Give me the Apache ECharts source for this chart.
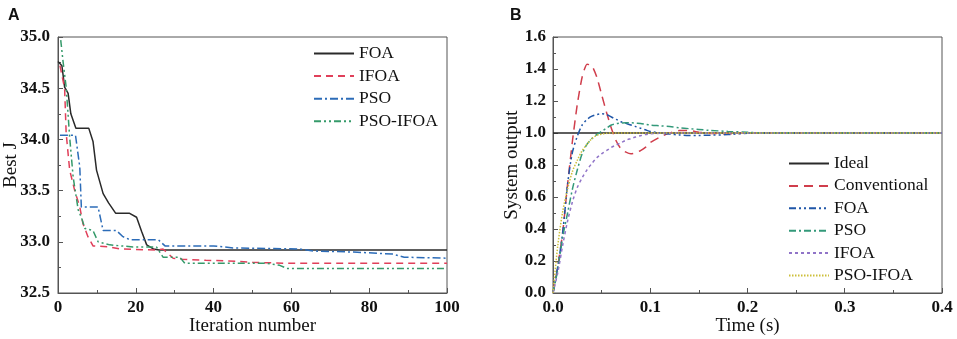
<!DOCTYPE html>
<html>
<head>
<meta charset="utf-8">
<script src="https://cdn.jsdelivr.net/npm/echarts@6/dist/echarts.min.js"></script>
<style>
  html, body { margin: 0; padding: 0; background: #fff; }
  #wrap { width: 957px; height: 339px; position: relative; }
  #chartA { position: absolute; left: 0; top: 0; width: 480px; height: 339px; }
  #chartB { position: absolute; left: 480px; top: 0; width: 477px; height: 339px; }
</style>
</head>
<body>
<div id="wrap">
  <div id="chartA"></div>
  <div id="chartB"></div>
</div>
<script>
// ---- panel A: convergence (iteration vs best J) ----
const foaIter = [0, 1, 1.7, 2.6, 3.3, 4.6, 7.9, 9, 9.9, 11.6, 13, 14.8, 18.3, 20.2, 21.5, 22.8, 24.5, 26, 100];
const foaJ    = [34.76, 34.72, 34.51, 34.45, 34.25, 34.11, 34.11, 33.98, 33.70, 33.47, 33.38, 33.28, 33.28, 33.24, 33.10, 32.97, 32.93, 32.92, 32.92];

const ifoaIter = [0.5, 1.7, 2.1, 3, 4.3, 5.6, 6.4, 7.7, 9, 13.3, 16, 25, 27, 29.6, 32, 38, 45.8, 50, 58.8, 100];
const ifoaJ    = [34.72, 34.50, 34.06, 33.70, 33.50, 33.34, 33.18, 33.05, 32.96, 32.95, 32.93, 32.92, 32.93, 32.84, 32.83, 32.82, 32.81, 32.80, 32.79, 32.79];

const psoIter = [0.5, 4.5, 5.6, 6, 10.3, 11.6, 15, 16.7, 18.5, 25.8, 27.5, 40, 45, 62, 65.7, 76, 86, 89, 100];
const psoJ    = [34.04, 34.04, 33.73, 33.34, 33.34, 33.11, 33.11, 33.05, 33.02, 33.02, 32.96, 32.96, 32.94, 32.93, 32.91, 32.90, 32.88, 32.85, 32.84];

const hybIter = [0.7, 1.3, 2.1, 3, 3.9, 5.2, 6, 6.9, 9, 10.3, 13.3, 19.3, 25.3, 27, 31.3, 32.6, 53.6, 57, 58.8, 100];
const hybJ    = [34.97, 34.76, 34.51, 34.02, 33.63, 33.31, 33.24, 33.13, 33.11, 33.00, 32.97, 32.95, 32.95, 32.85, 32.85, 32.79, 32.79, 32.77, 32.74, 32.74];

// ---- panel B: step response (time vs output) ----
const timeB = [0, 0.005, 0.01, 0.015, 0.02, 0.025, 0.03, 0.035, 0.04, 0.045, 0.05, 0.055, 0.06, 0.065, 0.07, 0.075, 0.08, 0.085, 0.09, 0.095, 0.1, 0.11, 0.12, 0.13, 0.14, 0.15, 0.16, 0.18, 0.2, 0.22, 0.25, 0.3, 0.35, 0.4];
const idealOut = timeB.map(() => 1.0);
const convOut  = [0, 0.17, 0.38, 0.68, 0.95, 1.18, 1.35, 1.43, 1.42, 1.35, 1.24, 1.13, 1.03, 0.95, 0.90, 0.88, 0.87, 0.875, 0.89, 0.91, 0.94, 0.975, 1.0, 1.015, 1.015, 1.005, 0.998, 0.995, 1.0, 1.0, 1.0, 1.0, 1.0, 1.0];
const foaOut   = [0, 0.17, 0.38, 0.68, 0.88, 0.98, 1.05, 1.085, 1.105, 1.115, 1.12, 1.115, 1.1, 1.085, 1.07, 1.06, 1.05, 1.04, 1.03, 1.02, 1.01, 1.0, 0.993, 0.988, 0.985, 0.985, 0.986, 0.99, 0.998, 1.0, 1.0, 1.0, 1.0, 1.0];
const psoOut   = [0, 0.15, 0.35, 0.50, 0.65, 0.77, 0.87, 0.93, 0.965, 0.99, 1.01, 1.03, 1.05, 1.058, 1.062, 1.064, 1.064, 1.062, 1.06, 1.055, 1.05, 1.045, 1.04, 1.033, 1.027, 1.022, 1.017, 1.01, 1.005, 1.0, 1.0, 1.0, 1.0, 1.0];
const ifoaOut  = [0, 0.13, 0.30, 0.45, 0.57, 0.66, 0.72, 0.77, 0.81, 0.845, 0.87, 0.89, 0.91, 0.925, 0.94, 0.955, 0.965, 0.975, 0.983, 0.99, 0.995, 0.998, 1.0, 1.0, 1.0, 1.0, 1.0, 1.0, 1.0, 1.0, 1.0, 1.0, 1.0, 1.0];
const hybOut   = [0, 0.30, 0.51, 0.65, 0.76, 0.83, 0.89, 0.93, 0.965, 0.985, 0.993, 0.998, 1.0, 1.0, 1.0, 1.0, 1.0, 1.0, 1.0, 1.0, 1.0, 1.0, 1.0, 1.0, 1.0, 1.0, 1.0, 1.0, 1.0, 1.0, 1.0, 1.0, 1.0, 1.0];

const xTicksA = [0, 20, 40, 60, 80, 100];
const yTicksB = ["0.0", "0.2", "0.4", "0.6", "0.8", "1.0", "1.2", "1.4", "1.6"];

const SERIF = "'Liberation Serif', 'DejaVu Serif', serif";
const FRAME = "#555";

function zip(xs, ys) {
  return xs.map((x, i) => [x, ys[i]]);
}

function lineSeries(name, xs, ys, color, dash, smooth) {
  return {
    name: name,
    type: "line",
    data: zip(xs, ys),
    symbol: "none",
    smooth: smooth || false,
    lineStyle: { color: color, width: 1.5, type: dash },
    itemStyle: { color: color },
    z: 3,
  };
}

function valueAxis(opts) {
  return Object.assign({
    type: "value",
    axisLine: { show: true, lineStyle: { color: FRAME, width: 1 } },
    axisTick: { show: true, inside: true, length: 5, lineStyle: { color: FRAME } },
    minorTick: { show: true, splitNumber: 2, length: 3, lineStyle: { color: FRAME } },
    splitLine: { show: false },
    nameLocation: "middle",
    nameMoveOverlap: false,
    nameTextStyle: { color: "#111", fontFamily: SERIF, fontSize: 19 },
  }, opts);
}

function tickLabels(margin, formatter) {
  return { color: "#111", fontFamily: SERIF, fontWeight: "bold", fontSize: 17, margin: margin, formatter: formatter };
}

function legendBox(left, top, names, gap) {
  return {
    orient: "vertical",
    left: left,
    top: top,
    padding: 0,
    data: names,
    itemWidth: 40,
    itemHeight: 14,
    itemGap: gap,
    itemStyle: { opacity: 0 },
    textStyle: { color: "#111", fontFamily: SERIF, fontSize: 17.5, lineHeight: 17 },
    selectedMode: false,
  };
}

const titleStyle = { fontFamily: "'Liberation Sans', Arial, sans-serif", fontWeight: "bold", fontSize: 16, color: "#111" };

// chart A
const chartA = echarts.init(document.getElementById("chartA"));
chartA.setOption({
  animation: false,
  title: { text: "A", left: 3, top: 3, textStyle: titleStyle },
  grid: { left: 58, top: 37, width: 389, height: 256, show: true, borderColor: FRAME, borderWidth: 1, outerBoundsMode: "none" },
  xAxis: valueAxis({
    min: 0, max: 100, interval: 20,
    name: "Iteration number", nameGap: 24,
    axisLabel: tickLabels(6, v => xTicksA.includes(v) ? String(v) : ""),
  }),
  yAxis: valueAxis({
    min: 32.5, max: 35, interval: 0.5,
    name: "Best J", nameGap: 37,
    axisLabel: tickLabels(8, v => v.toFixed(1)),
  }),
  legend: legendBox(313, 44.5, ["FOA", "IFOA", "PSO", "PSO-IFOA"], 4.6),
  series: [
    lineSeries("FOA", foaIter, foaJ, "#2a2a2a", "solid"),
    lineSeries("IFOA", ifoaIter, ifoaJ, "#e0405a", [7, 5]),
    lineSeries("PSO", psoIter, psoJ, "#2c6cb8", [8, 3, 2, 3]),
    lineSeries("PSO-IFOA", hybIter, hybJ, "#359a6a", [7, 3, 2, 3, 2, 3]),
  ],
});

// chart B
const chartB = echarts.init(document.getElementById("chartB"));
chartB.setOption({
  animation: false,
  title: { text: "B", left: 25, top: 3, textStyle: titleStyle },
  grid: { left: 73, top: 37, width: 389, height: 256, show: true, borderColor: FRAME, borderWidth: 1, outerBoundsMode: "none" },
  xAxis: valueAxis({
    min: 0, max: 0.4, interval: 0.1,
    name: "Time (s)", nameGap: 24,
    axisLabel: tickLabels(6, v => v.toFixed(1)),
  }),
  yAxis: valueAxis({
    min: 0, max: 1.6, interval: 0.2,
    name: "System output", nameGap: 31,
    axisLabel: tickLabels(7, v => yTicksB[Math.round(v / 0.2)]),
  }),
  legend: legendBox(308, 154.5, ["Ideal", "Conventional", "FOA", "PSO", "IFOA", "PSO-IFOA"], 4.4),
  series: [
    lineSeries("Ideal", timeB, idealOut, "#2a2a2a", "solid"),
    lineSeries("Conventional", timeB, convOut, "#d03e4c", [9, 6], 0.2),
    lineSeries("FOA", timeB, foaOut, "#1f56a8", [7, 3, 2, 3, 2, 3], 0.3),
    lineSeries("PSO", timeB, psoOut, "#33997a", [7, 3, 2, 3], 0.3),
    lineSeries("IFOA", timeB, ifoaOut, "#9074c8", [3, 3], 0.3),
    lineSeries("PSO-IFOA", timeB, hybOut, "#cdbf3a", [1.5, 1.5], 0.3),
  ],
});
</script>
</body>
</html>
